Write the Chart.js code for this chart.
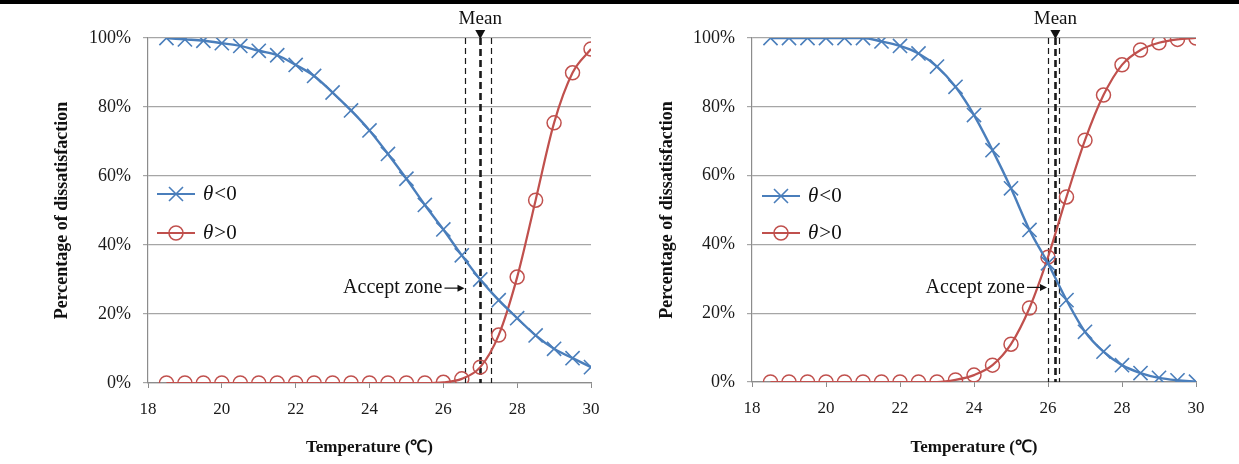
<!DOCTYPE html>
<html>
<head>
<meta charset="utf-8">
<script src="https://cdn.jsdelivr.net/npm/chart.js@4/dist/chart.umd.min.js"></script>
<style>
  body { margin: 0; background: #fff; }
  #wrap { position: relative; width: 1239px; height: 464px; overflow: hidden; }
  #topbar { position: absolute; left: 0; top: 0; width: 1239px; height: 4px; background: #000; }
  canvas { position: absolute; top: 0; }
</style>
</head>
<body>
<div id="wrap">
  <canvas id="chartLeft" width="620" height="464" style="left:0"></canvas>
  <canvas id="chartRight" width="619" height="464" style="left:620px"></canvas>
  <div id="topbar"></div>
</div>
<script>
// temperaturas (eje x)
const temps = [18.5, 19, 19.5, 20, 20.5, 21, 21.5, 22, 22.5, 23, 23.5, 24,
  24.5, 25, 25.5, 26, 26.5, 27, 27.5, 28, 28.5, 29, 29.5, 30];

// grafico izquierdo (%)
const leftCold = [100, 99.6, 99.2, 98.5, 97.7, 96.3, 95, 92.2, 89, 84.2, 79, 73.2,
  66.4, 59.2, 51.6, 44.5, 37, 30, 24, 18.8, 13.8, 9.9, 7.2, 4.6];
const leftHot = [0, 0, 0, 0, 0, 0, 0, 0, 0, 0, 0, 0,
  0, 0, 0, 0.2, 1.2, 4.6, 13.9, 30.7, 53, 75.4, 89.9, 96.8];

// grafico derecho (%)
const rightCold = [100, 100, 100, 100, 100, 100, 99, 97.7, 95.5, 91.7, 85.8, 77.6,
  67.4, 56.3, 44.2, 34.5, 23.8, 14.6, 8.8, 4.9, 2.6, 1.2, 0.5, 0.1];
const rightHot = [0, 0, 0, 0, 0, 0, 0, 0, 0, 0, 0.6, 2,
  4.9, 11, 21.5, 36.3, 53.8, 70.3, 83.4, 92.2, 96.5, 98.6, 99.6, 100];

// zona de aceptacion: [inicio, media, fin]
const zoneLeft = [26.6, 27.0, 27.3];
const zoneRight = [26.0, 26.2, 26.3];

const xTicks = [18, 20, 22, 24, 26, 28, 30];
const yTicks = [0, 20, 40, 60, 80, 100];
const seriesNames = ["<0", ">0"];
const zoneLabel = "Accept zone";
const meanLabel = "Mean";
const acceptLevel = 27.5;

const BLUE = "#4a7ebb";
const RED = "#c0504d";
const SERIF = '"Liberation Serif", "Times New Roman", serif';

function toPoints(values) {
  return values.map((v, i) => ({ x: temps[i], y: v }));
}

// DIBUJA ANOTACIONES (lineas, media, zona, leyenda)
function annotations(zone, legendPos) {
  return {
    id: "annot",
    beforeDatasetsDraw(chart) {
      const { ctx, chartArea, scales } = chart;
      ctx.save();
      ctx.strokeStyle = "#1a1a1a";
      zone.forEach((t, i) => {
        const x = Math.round(scales.x.getPixelForValue(t)) + 0.5;
        ctx.lineWidth = i === 1 ? 2.6 : 1.2;
        ctx.setLineDash(i === 1 ? [7, 4] : [6, 4]);
        ctx.beginPath();
        ctx.moveTo(x, chartArea.top);
        ctx.lineTo(x, chartArea.bottom);
        ctx.stroke();
      });
      ctx.restore();
    },
    afterDraw(chart) {
      const { ctx, chartArea, scales } = chart;
      ctx.save();
      // media
      const xm = scales.x.getPixelForValue(zone[1]);
      ctx.fillStyle = "#111";
      ctx.beginPath();
      ctx.moveTo(xm - 5, chartArea.top - 8);
      ctx.lineTo(xm + 5, chartArea.top - 8);
      ctx.lineTo(xm, chartArea.top + 1);
      ctx.closePath();
      ctx.fill();
      ctx.font = "19px " + SERIF;
      ctx.textAlign = "center";
      ctx.textBaseline = "middle";
      ctx.fillText(meanLabel, xm, chartArea.top - 19);

      // zona de aceptacion
      const xz = scales.x.getPixelForValue(zone[0]);
      const yz = scales.y.getPixelForValue(acceptLevel);
      ctx.font = "20px " + SERIF;
      ctx.textAlign = "right";
      ctx.fillText(zoneLabel, xz - 23, yz);
      ctx.strokeStyle = "#111";
      ctx.lineWidth = 1.2;
      ctx.beginPath();
      ctx.moveTo(xz - 21, yz);
      ctx.lineTo(xz - 6, yz);
      ctx.stroke();
      ctx.beginPath();
      ctx.moveTo(xz - 1, yz);
      ctx.lineTo(xz - 8, yz - 3.5);
      ctx.lineTo(xz - 8, yz + 3.5);
      ctx.closePath();
      ctx.fill();

      // leyenda
      chart.data.datasets.forEach((ds, i) => {
        const y = legendPos.y[i];
        const x0 = legendPos.x;
        ctx.strokeStyle = ds.borderColor;
        ctx.lineWidth = 2.2;
        ctx.setLineDash([]);
        ctx.beginPath();
        ctx.moveTo(x0, y);
        ctx.lineTo(x0 + 38, y);
        ctx.stroke();
        const cx = x0 + 19;
        ctx.lineWidth = 1.6;
        ctx.beginPath();
        if (ds.pointStyle === "crossRot") {
          ctx.moveTo(cx - 7, y - 7); ctx.lineTo(cx + 7, y + 7);
          ctx.moveTo(cx + 7, y - 7); ctx.lineTo(cx - 7, y + 7);
        } else {
          ctx.arc(cx, y, 7, 0, Math.PI * 2);
        }
        ctx.stroke();
        ctx.fillStyle = "#111";
        ctx.textAlign = "left";
        ctx.font = "italic 21px " + SERIF;
        ctx.fillText("\u03b8", x0 + 46, y);
        const w = ctx.measureText("\u03b8").width;
        ctx.font = "21px " + SERIF;
        ctx.fillText(seriesNames[i], x0 + 46 + w + 1, y);
      });
      ctx.restore();
    },
  };
}

function makeChart(id, cold, hot, zone, lay) {
  const ctx = document.getElementById(id).getContext("2d");
  return new Chart(ctx, {
    type: "line",
    data: {
      datasets: [
        {
          label: "\u03b8<0",
          data: toPoints(cold),
          borderColor: BLUE,
          backgroundColor: "rgba(0,0,0,0)",
          borderWidth: 2.4,
          pointStyle: "crossRot",
          pointRadius: 10,
          pointBorderWidth: 1.6,
          pointBorderColor: BLUE,
          cubicInterpolationMode: "monotone",
        },
        {
          label: "\u03b8>0",
          data: toPoints(hot),
          borderColor: RED,
          backgroundColor: "rgba(0,0,0,0)",
          borderWidth: 2.2,
          pointStyle: "circle",
          pointRadius: 7,
          pointBorderWidth: 1.5,
          pointBorderColor: RED,
          pointBackgroundColor: "rgba(0,0,0,0)",
          cubicInterpolationMode: "monotone",
        },
      ],
    },
    options: {
      responsive: false,
      animation: false,
      layout: { padding: { top: 38, right: lay.padRight, left: 0, bottom: 0 } },
      plugins: { legend: { display: false }, tooltip: { enabled: false } },
      scales: {
        x: {
          type: "linear",
          min: 18,
          max: 30,
          afterBuildTicks: (s) => { s.ticks = xTicks.map((v) => ({ value: v })); },
          afterFit: (s) => { s.height = lay.xHeight; },
          border: { color: "#8c8c8c", width: 1.2 },
          grid: { drawOnChartArea: false, drawTicks: true, tickLength: 5, color: "#8c8c8c" },
          ticks: { padding: 11, color: "#1a1a1a", font: { family: SERIF, size: 17 }, maxRotation: 0 },
          title: {
            display: true,
            text: "Temperature (\u2103)",
            color: "#111",
            font: { family: SERIF, size: 17, weight: "bold" },
            padding: { top: 0, bottom: 6 },
          },
        },
        y: {
          min: 0,
          max: 100,
          afterBuildTicks: (s) => { s.ticks = yTicks.map((v) => ({ value: v })); },
          afterFit: (s) => { s.width = lay.yWidth; },
          border: { color: "#8c8c8c", width: 1.2 },
          grid: { color: "#a6a6a6", lineWidth: 1.2, tickLength: 5 },
          ticks: { padding: 12, color: "#1a1a1a", font: { family: SERIF, size: 18 }, callback: (v) => v + "%" },
          title: {
            display: true,
            text: "Percentage of dissatisfaction",
            color: "#111",
            font: { family: SERIF, size: 18, weight: "bold" },
            padding: { top: lay.yTitlePad, bottom: 0 },
          },
        },
      },
    },
    plugins: [annotations(zone, lay.legend)],
  });
}

makeChart("chartLeft", leftCold, leftHot, zoneLeft, {
  padRight: 29, xHeight: 81, yWidth: 148, yTitlePad: 52,
  legend: { x: 157, y: [194, 233] },
});
makeChart("chartRight", rightCold, rightHot, zoneRight, {
  padRight: 43, xHeight: 82, yWidth: 132, yTitlePad: 37,
  legend: { x: 142, y: [196, 233] },
});
</script>
</body>
</html>
